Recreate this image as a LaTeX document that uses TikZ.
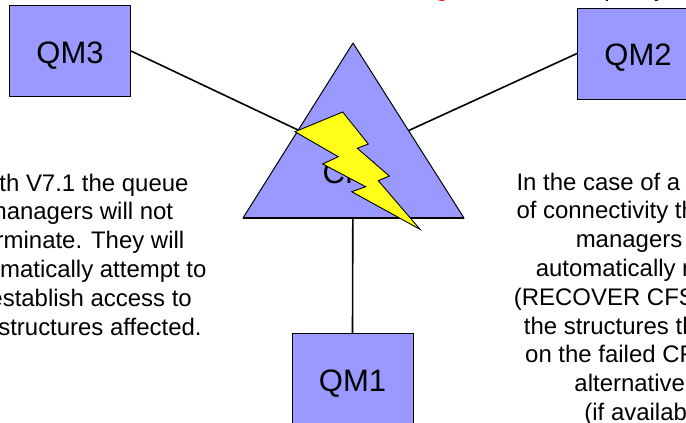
\documentclass[tikz,border=0pt]{standalone}
\usepackage{fontspec}
\setmainfont{Liberation Sans}
\usepackage{xcolor}
\usetikzlibrary{positioning}
\definecolor{qmblue}{RGB}{153,153,255}
\definecolor{boltyellow}{RGB}{255,255,25}
\tikzset{
	qmbox/.style={draw=black,fill=qmblue,line width=1pt,minimum width=121pt,minimum height=91pt,inner sep=0pt,text height=24pt,text depth=0pt,font=\fontsize{31}{36}\selectfont},
	link/.style={draw=black,line width=1.6pt},
	note/.style={align=center,anchor=north,inner sep=0pt,font=\fontsize{23.95}{28.8}\selectfont},
	cutoff/.style={anchor=base,inner sep=0pt,font=\fontsize{23.95}{28.8}\selectfont}
}
\begin{document}
\begin{tikzpicture}[x=1pt,y=-1pt]
	\useasboundingbox (0,0) rectangle (686,423);
	\clip (0,0) rectangle (686,423);
	\fill[white] (0,0) rectangle (686,423);
	\node[qmbox] (qm3) at (70,51) {QM3};
	\node[qmbox] (qm2) at (638,53.5) {QM2};
	\node[qmbox] (qm1) at (352.5,379) {QM1};
	\coordinate (cfmid) at (353,156);
	\draw[link] (qm3.east)--(cfmid);
	\draw[link] (qm2.west)--(cfmid);
	\draw[link] (qm1.north)--(cfmid);
	\draw[fill=qmblue,draw=black,line width=1pt,line join=round] (353,43)--(464,218)--(243,218)--cycle;
	\draw[black,line width=2.2pt] (243,218)--(464,218);
	\node[inner sep=0pt,anchor=base,font=\fontsize{31}{36}\selectfont] (cf1) at (352,183) {CF1};
	\draw[fill=boltyellow,draw=black,line width=0.9pt,line join=miter] (295,131.7)--(342.7,112)--(368.3,144)--(357.3,148.3)--(389.3,176)--(378.3,180.7)--(420,229.3)--(351.7,191.7)--(365.7,186.7)--(322.7,164)--(338.3,156.7)--cycle;
	\node[note] (leftnote) at (80,173.5) {With V7.1 the queue\\managers will not\\terminate. They will\\automatically attempt to\\reestablish access to\\the structures affected.};
	\node[note] (rightnote) at (649,172.5) {In the case of a total loss\\of connectivity the queue\\managers will\\automatically recover\\(RECOVER CFSTRUCT)\\the structures that were\\on the failed CF into an\\alternative CF\\(if available)};
	\node[cutoff,text=red] (redcut) at (442,-3.5) {g};
	\node[cutoff] (blackcuta) at (611,-3.5) {p};
	\node[cutoff] (blackcutb) at (660,-3.5) {y};
\end{tikzpicture}
\end{document}
